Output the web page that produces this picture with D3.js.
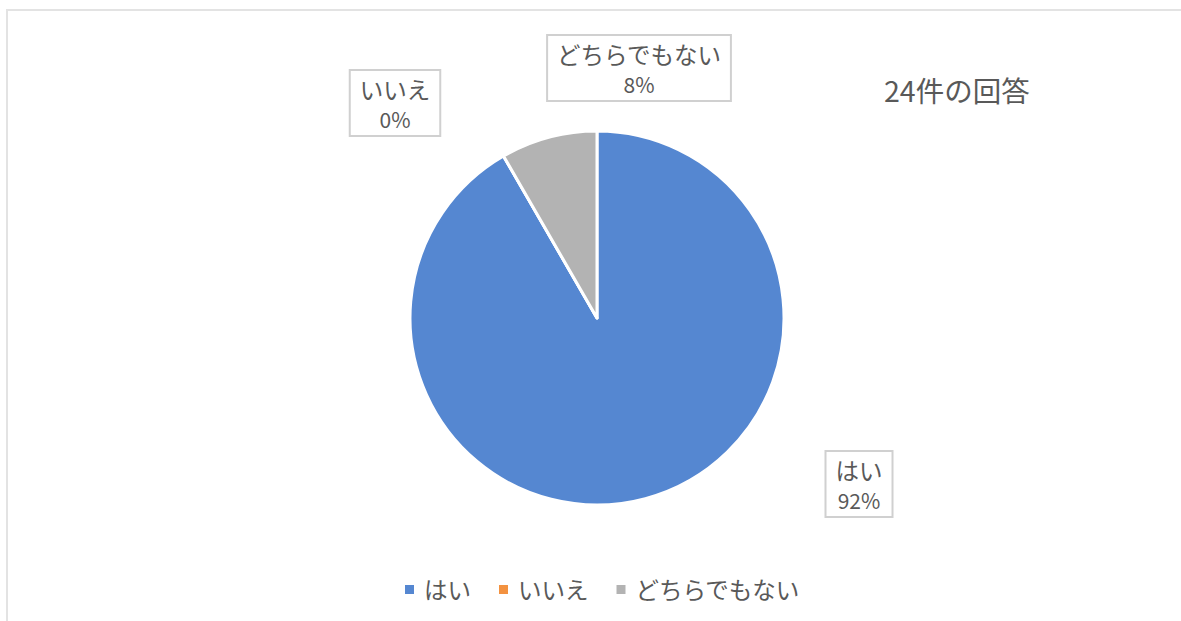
<!DOCTYPE html>
<html>
<head>
<meta charset="utf-8">
<script src="https://cdn.jsdelivr.net/npm/d3@7"></script>
<style>
  html, body { margin: 0; padding: 0; background: #fff; }
  svg { display: block; font-family: "Noto Sans CJK JP", "Noto Sans", sans-serif; }
</style>
</head>
<body>
<div id="chart"></div>
<script>
// Data (24 responses)
const categories = ["はい", "いいえ", "どちらでもない"];
const counts = [22, 0, 2];
const percentLabels = ["92%", "0%", "8%"];
const sliceColors = ["#5587d1", "#f39240", "#b3b3b3"];
const titleText = "24件の回答";

// Label box placement relative to pie centre (layout only)
const labelOffsets = [[262, 166], [-202, -215], [42, -250]];

const width = 1181;
const height = 621;
const cx = 597, cy = 318, radius = 187;
const textColor = "#595959";

const svg = d3.select("#chart")
  .append("svg")
  .attr("width", width)
  .attr("height", height);

// chart area frame (only top and left edges visible)
svg.append("path")
  .attr("d", `M7,${height} L7,10 L${width},10`)
  .attr("fill", "none")
  .attr("stroke", "#e3e3e3")
  .attr("stroke-width", 2);

const pie = d3.pie().sort(null).value(d => d)
  .startAngle(0).endAngle(2 * Math.PI);
const arcs = pie(counts);
const arc = d3.arc().innerRadius(0).outerRadius(radius);

const g = svg.append("g").attr("transform", `translate(${cx},${cy})`);

g.selectAll(".slice")
  .data(arcs)
  .enter()
  .append("path")
  .attr("class", "slice")
  .attr("d", arc)
  .attr("fill", (d, i) => sliceColors[i])
  .attr("stroke", "#fff")
  .attr("stroke-width", 3)
  .attr("stroke-linejoin", "round");

// data labels with boxes
const labels = g.selectAll(".label")
  .data(arcs)
  .enter()
  .append("g")
  .attr("class", "label")
  .attr("transform", (d, i) => `translate(${labelOffsets[i][0]},${labelOffsets[i][1]})`);

labels.each(function (d, i) {
  const lg = d3.select(this);
  const rect = lg.append("rect")
    .attr("fill", "#fff")
    .attr("stroke", "#d0d0d0")
    .attr("stroke-width", 2);
  const t1 = lg.append("text")
    .attr("text-anchor", "middle")
    .attr("y", -4)
    .attr("fill", textColor)
    .style("font-size", "23.5px")
    .text(categories[i]);
  const t2 = lg.append("text")
    .attr("text-anchor", "middle")
    .attr("y", 25)
    .attr("fill", textColor)
    .style("font-size", "21px")
    .text(percentLabels[i]);
  const w = Math.max(t1.node().getComputedTextLength(), t2.node().getComputedTextLength()) + 20;
  const h = 66;
  rect.attr("x", -w / 2).attr("y", -h / 2).attr("width", w).attr("height", h);
});

// title
svg.append("text")
  .attr("x", 884)
  .attr("y", 102)
  .attr("fill", textColor)
  .style("font-size", "28.5px")
  .text(titleText);

// legend
const legend = svg.append("g").attr("transform", "translate(0,590)");
let lx = 405;
categories.forEach((c, i) => {
  legend.append("rect")
    .attr("x", lx)
    .attr("y", -5)
    .attr("width", 9)
    .attr("height", 9)
    .attr("fill", sliceColors[i]);
  const t = legend.append("text")
    .attr("x", lx + 19)
    .attr("y", 9)
    .attr("fill", textColor)
    .style("font-size", "23.5px")
    .text(c);
  lx += 19 + t.node().getComputedTextLength() + 28;
});
</script>
</body>
</html>
